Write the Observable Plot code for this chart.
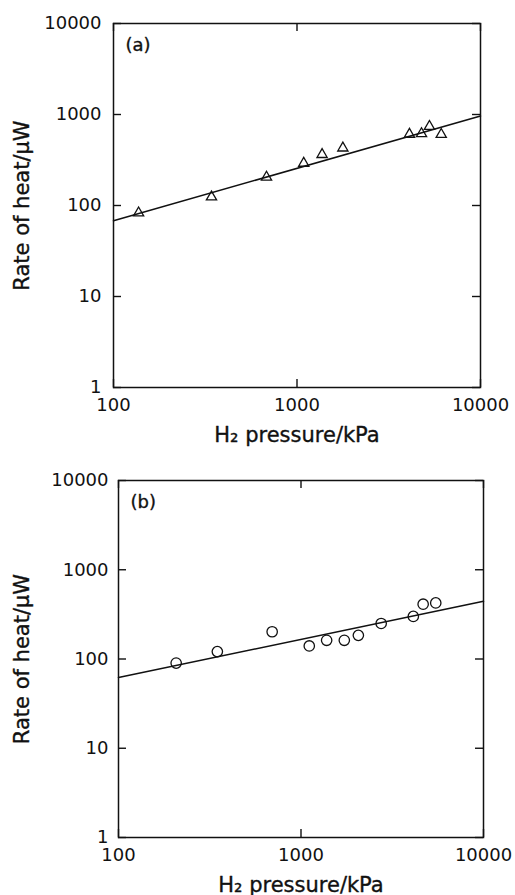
<!DOCTYPE html>
<html>
<head>
<meta charset="utf-8">
<script src="https://cdn.jsdelivr.net/npm/d3@7"></script>
<script src="https://cdn.jsdelivr.net/npm/@observablehq/plot@0.6"></script>
<style>
  body { margin: 0; background: #fff; }
  #chart svg { display: block; background: #fff; }
</style>
</head>
<body>
<div id="chart"></div>
<script>
// Panel (a): triangles
const pressureA = [137, 342, 682, 1088, 1370, 1778, 4100, 4770, 5270, 6110];
const heatA     = [83, 124, 205, 291, 363, 428, 606, 616, 740, 604];
const fitPressureA = [100, 10000];
const fitHeatA     = [68, 965];

// Panel (b): circles
const pressureB = [207, 348, 695, 1110, 1382, 1727, 2062, 2750, 4125, 4670, 5475];
const heatB     = [90, 121, 202, 140, 162, 162, 184, 250, 300, 411, 425];
const fitPressureB = [100, 10000];
const fitHeatB     = [62, 443];

// Tick labels
const xTicks = [100, 1000, 10000];
const yTicks = [1, 10, 100, 1000, 10000];

const xTitle = "H₂ pressure/kPa";
const yTitle = "Rate of heat/μW";

const FONT = "DejaVu Sans, sans-serif";
const INK = "#111";

function panel({px, py, fx, fy, symbol, r, tag, height, marginTop, marginBottom, marginLeft, marginRight, labelGap}) {
  const pts = px.map((x, i) => ({x, y: py[i]}));
  const fit = fx.map((x, i) => ({x, y: fy[i]}));
  const W = 515 - marginLeft - marginRight;   // frame width
  const H = height - marginTop - marginBottom; // frame height
  const T = 8; // inward tick length
  const tk = {stroke: INK, strokeWidth: 1.4};
  const txt = {fill: INK, stroke: INK, strokeWidth: 0.35};
  return Plot.plot({
    width: 515,
    height,
    marginTop, marginBottom, marginLeft, marginRight,
    style: {fontFamily: FONT, fontSize: "18px", color: INK, background: "#fff"},
    x: {type: "log", domain: [100, 10000], axis: null},
    y: {type: "log", domain: [1, 10000], axis: null},
    marks: [
      // tick labels
      Plot.axisY(yTicks, {anchor: "left", tickSize: 0, tickPadding: labelGap, tickFormat: d => String(d), label: null, fontSize: 18, ...txt}),
      Plot.axisX(xTicks, {anchor: "bottom", tickSize: 0, tickPadding: 11, tickFormat: d => String(d), label: null, fontSize: 18, ...txt}),
      // inward tick marks on all four sides
      Plot.ruleY(yTicks, {y: d => d, insetRight: W - T, ...tk}),
      Plot.ruleY(yTicks, {y: d => d, insetLeft: W - T, ...tk}),
      Plot.ruleX(xTicks, {x: d => d, insetTop: H - T, ...tk}),
      Plot.ruleX(xTicks, {x: d => d, insetBottom: H - T, ...tk}),
      Plot.frame({stroke: INK, strokeWidth: 1.5}),
      Plot.line(fit, {x: "x", y: "y", stroke: INK, strokeWidth: 1.5}),
      Plot.dot(pts, {x: "x", y: "y", symbol, r, stroke: INK, strokeWidth: 1.3, fill: "none"}),
      Plot.text([tag], {text: d => d, frameAnchor: "top-left", textAnchor: "start", lineAnchor: "bottom", dx: 12, dy: 27, fontSize: 18, ...txt}),
      Plot.text([xTitle], {text: d => d, frameAnchor: "bottom", textAnchor: "middle", lineAnchor: "bottom", dy: 54, fontSize: 21, ...txt}),
      Plot.text([yTitle], {text: d => d, frameAnchor: "left", textAnchor: "middle", lineAnchor: "bottom", rotate: -90, dx: -(marginLeft - 28), fontSize: 21, ...txt})
    ]
  });
}

const chart = document.getElementById("chart");
chart.append(panel({
  px: pressureA, py: heatA, fx: fitPressureA, fy: fitHeatA,
  symbol: "triangle", r: 3.8, tag: "(a)",
  height: 447, marginTop: 23, marginBottom: 60, marginLeft: 113, marginRight: 35, labelGap: 12
}));
chart.append(panel({
  px: pressureB, py: heatB, fx: fitPressureB, fy: fitHeatB,
  symbol: "circle", r: 5.2, tag: "(b)",
  height: 448, marginTop: 33, marginBottom: 58, marginLeft: 118, marginRight: 32, labelGap: 10
}));
</script>
</body>
</html>
